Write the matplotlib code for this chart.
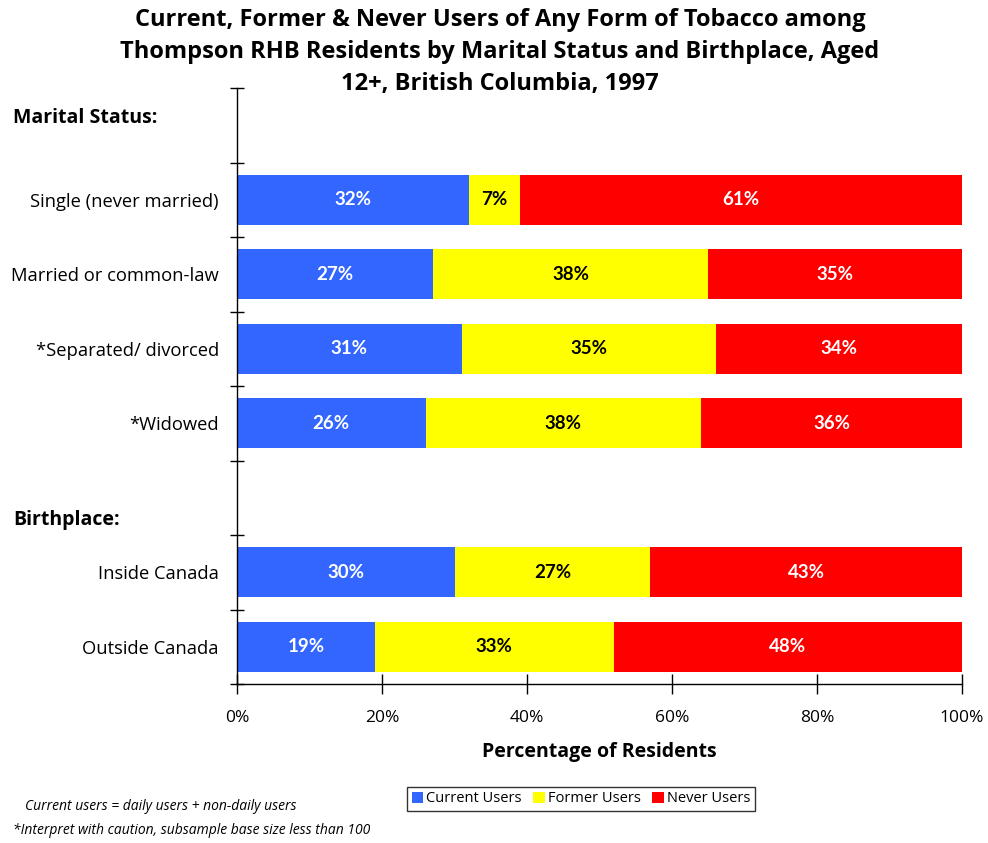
import matplotlib
matplotlib.use("Agg")
import matplotlib.pyplot as plt
from matplotlib.patches import Patch

plt.rcParams['font.family'] = ['Open Sans', 'DejaVu Sans']

categories = ["Single (never married)", "Married or common-law", "*Separated/ divorced",
              "*Widowed", "Inside Canada", "Outside Canada"]
slots = [1, 2, 3, 4, 6, 7]
current = [32, 27, 31, 26, 30, 19]
former = [7, 38, 35, 38, 27, 33]
never = [61, 35, 34, 36, 43, 48]
series_names = ["Current Users", "Former Users", "Never Users"]
colors = ["#3366FF", "#FFFF00", "#FF0000"]
text_colors = ["white", "black", "white"]
xticks = [0, 20, 40, 60, 80, 100]

fig = plt.figure(figsize=(9.88, 8.43), dpi=100)
ax = fig.add_axes([237/988, 1-684/843, (962-237)/988, (684-88)/843])

left = [0]*len(current)
for vals, col, tc in zip([current, former, never], colors, text_colors):
    ax.barh([s + 0.5 for s in slots], vals, left=left, height=0.67, color=col, edgecolor='none')
    for s, v, l in zip(slots, vals, left):
        ax.text(l + v/2, s + 0.5, f"{v}%", ha='center', va='center', color=tc,
                fontsize=13.5, fontweight='bold', family=['Lato', 'DejaVu Sans'])
    left = [a + b for a, b in zip(left, vals)]

ax.set_xlim(0, 100)
ax.set_ylim(8, 0)
ax.set_yticks(range(9))
ax.set_yticklabels([])
ax.set_yticks([s + 0.5 for s in slots], minor=True)
ax.set_yticklabels(categories, minor=True, fontsize=13.2)
ax.tick_params(axis='y', which='minor', length=0, pad=13)
ax.tick_params(axis='y', which='major', direction='inout', length=10, width=1)
ax.set_xticks(xticks)
ax.set_xticklabels([f"{t}%" for t in xticks], fontsize=12.5)
ax.tick_params(axis='x', direction='inout', length=14, width=1, pad=12)
for sp in ['top', 'right']:
    ax.spines[sp].set_visible(False)
ax.spines['left'].set_linewidth(1)
ax.spines['bottom'].set_linewidth(1)
ax.set_xlabel("Percentage of Residents", fontsize=14, fontweight='bold', labelpad=11)

fig.text(13/988, 1-118/843, "Marital Status:", fontsize=14, fontweight='bold', va='center', ha='left')
fig.text(13/988, 1-520/843, "Birthplace:", fontsize=14, fontweight='bold', va='center', ha='left')

fig.text(500/988, 1-52/843,
         "Current, Former & Never Users of Any Form of Tobacco among\n"
         "Thompson RHB Residents by Marital Status and Birthplace, Aged\n"
         "12+, British Columbia, 1997",
         ha='center', va='center', fontsize=17, fontweight='bold', linespacing=1.45)

fig.text(25/988, 1-806/843, "Current users = daily users + non-daily users", fontsize=10,
         style='italic', va='center')
fig.text(13/988, 1-831/843, "*Interpret with caution, subsample base size less than 100", fontsize=10,
         style='italic', va='center')

handles = [Patch(facecolor=c, edgecolor='none', label=n) for c, n in zip(colors, series_names)]
leg = fig.legend(handles=handles, loc='center', bbox_to_anchor=(581/988, 1-799/843), ncol=3,
                 frameon=True, fancybox=False, edgecolor='black', fontsize=10.5,
                 handlelength=0.8, handleheight=0.8, handletextpad=0.2, columnspacing=0.8,
                 borderpad=0.3, borderaxespad=0)
leg.get_frame().set_linewidth(1)

fig.savefig("out.png", dpi=100)
